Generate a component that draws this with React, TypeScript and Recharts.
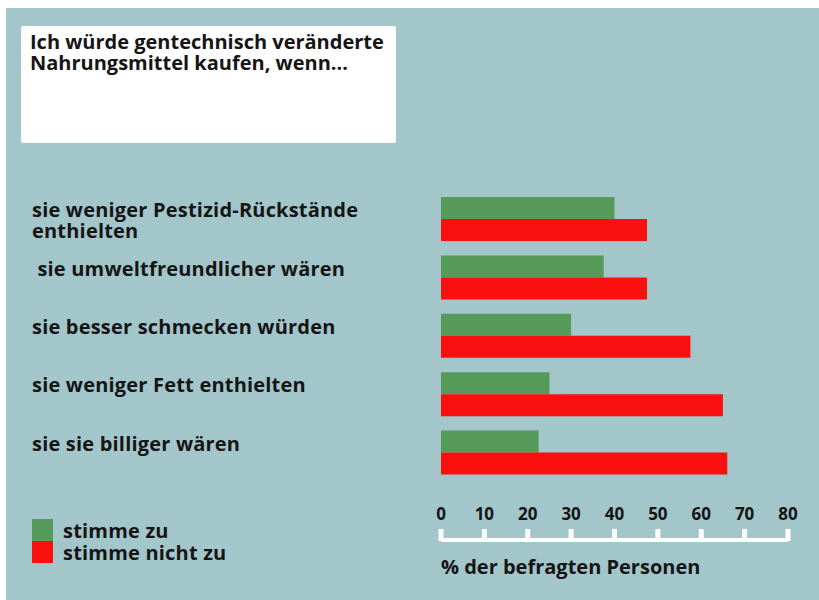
import { Bar, BarChart, Legend, XAxis, YAxis } from "recharts";

const categories = [
  "sie weniger Pestizid-Rückstände\nenthielten",
  " sie umweltfreundlicher wären",
  "sie besser schmecken würden",
  "sie weniger Fett enthielten",
  "sie sie billiger wären",
];
const seriesNames = ["stimme zu", "stimme nicht zu"];
const stimmeZu = [40, 37.5, 30, 25, 22.5];
const stimmeNichtZu = [47.5, 47.5, 57.5, 65, 66];
const xTicks = [0, 10, 20, 30, 40, 50, 60, 70, 80];

const BG = "#a2c6ca";
const GREEN = "#569a59";
const RED = "#fb1010";
const INK = "#151515";
const FONT = "'Open Sans', sans-serif";

const data = categories.map((name, i) => ({
  name,
  zu: stimmeZu[i],
  nichtZu: stimmeNichtZu[i],
}));

// Kategorie-Beschriftung links, ggf. mehrzeilig
function CategoryTick(props: any) {
  const { y, payload } = props;
  const lines = String(payload.value).split("\n");
  return (
    <text
      x={32}
      y={y - 2}
      fill={INK}
      fontSize={20}
      fontWeight={700}
      letterSpacing={0.2}
      fontFamily={FONT}
      style={{ whiteSpace: "pre" }}
    >
      {lines.map((line, i) => (
        <tspan key={i} x={32} dy={i === 0 ? 0 : 21}>
          {line}
        </tspan>
      ))}
    </text>
  );
}

// Zahlen über der weißen Achse, Striche nach oben
function ValueTick(props: any) {
  const { x, y, payload } = props;
  return (
    <g>
      <rect x={x - 2.5} y={y - 11} width={5} height={12} fill="#fff" />
      <text x={x} y={y - 20} textAnchor="middle" fill={INK} fontSize={17} fontWeight={700} fontFamily={FONT}>
        {payload.value}
      </text>
    </g>
  );
}

function LegendBox(props: any) {
  const items = [...(props.payload || [])].sort(
    (a: any, b: any) => seriesNames.indexOf(a.value) - seriesNames.indexOf(b.value)
  );
  return (
    <div style={{ fontFamily: FONT, fontWeight: 700, fontSize: 20, letterSpacing: 0.2, color: INK }}>
      {items.map((it: any) => (
        <div key={it.value} style={{ display: "flex", alignItems: "center", height: 22 }}>
          <span style={{ width: 21, height: 22, background: it.color, marginRight: 10 }} />
          <span>{it.value}</span>
        </div>
      ))}
    </div>
  );
}

export default function App() {
  return (
    <div style={{ position: "absolute", left: 0, top: 0, width: 819, height: 600, background: "#fff" }}>
      <div style={{ position: "absolute", left: 6, top: 8, width: 813, height: 592, background: BG }} />
      <div
        style={{
          position: "absolute",
          left: 21,
          top: 26,
          width: 375,
          height: 117,
          background: "#fff",
          borderRadius: 2,
          boxSizing: "border-box",
          padding: "0 0 0 9px",
          fontFamily: FONT,
          fontWeight: 700,
          fontSize: 20,
          lineHeight: "21px",
          color: INK,
        }}
      >
        <div style={{ marginTop: 5 }}>Ich würde gentechnisch veränderte</div>
        <div>Nahrungsmittel kaufen, wenn...</div>
      </div>
      <div style={{ position: "absolute", left: 0, top: 0 }}>
        <BarChart
          width={819}
          height={600}
          data={data}
          layout="vertical"
          margin={{ top: 190, right: 31, bottom: 20, left: 0 }}
          barGap={0}
          barSize={22}
        >
          <XAxis
            type="number"
            domain={[0, 80]}
            ticks={xTicks}
            interval={0}
            height={40}
            axisLine={{ stroke: "#fff", strokeWidth: 4 }}
            tickLine={false}
            tickSize={0}
            tickMargin={0}
            tick={<ValueTick />}
          />
          <YAxis
            type="category"
            dataKey="name"
            width={441}
            axisLine={false}
            tickLine={false}
            padding={{ top: 0, bottom: 58 }}
            tick={<CategoryTick />}
            interval={0}
          />
          <Bar dataKey="zu" name={seriesNames[0]} fill={GREEN} isAnimationActive={false} />
          <Bar dataKey="nichtZu" name={seriesNames[1]} fill={RED} isAnimationActive={false} />
          <Legend
            layout="horizontal"
            verticalAlign="middle"
            align="center"
            content={<LegendBox />}
            wrapperStyle={{ position: "absolute", left: 32, top: 519, width: 250, height: 44 }}
          />
        </BarChart>
      </div>
      <div
        style={{
          position: "absolute",
          left: 441,
          top: 553,
          fontFamily: FONT,
          fontWeight: 700,
          fontSize: 20,
          color: INK,
        }}
      >
        % der befragten Personen
      </div>
    </div>
  );
}
